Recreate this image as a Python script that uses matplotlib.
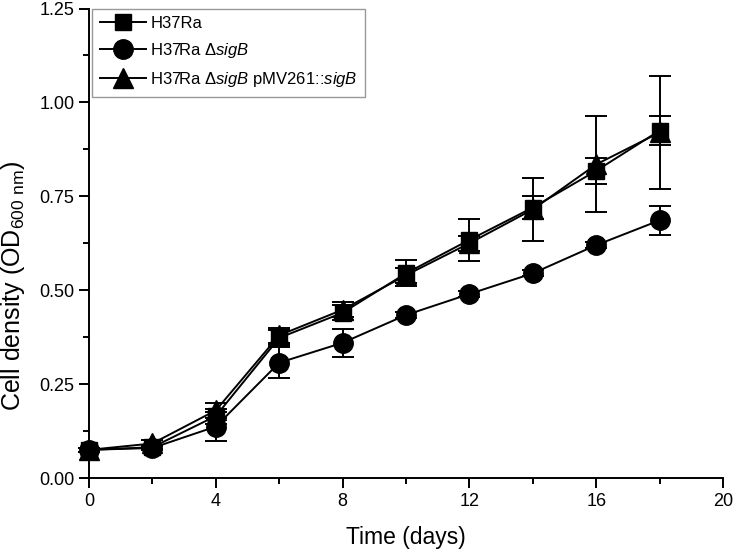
import matplotlib
matplotlib.use("Agg")
import matplotlib.pyplot as plt
from matplotlib.ticker import MultipleLocator, FormatStrFormatter
from matplotlib.lines import Line2D

plt.rcParams['font.family'] = ['Liberation Sans', 'DejaVu Sans']
plt.rcParams['mathtext.fontset'] = 'custom'
plt.rcParams['mathtext.rm'] = 'Liberation Sans'
plt.rcParams['mathtext.it'] = 'Liberation Sans:italic'

days = [0, 2, 4, 6, 8, 10, 12, 14, 16, 18]

wt = [0.075, 0.082, 0.165, 0.373, 0.440, 0.545, 0.634, 0.720, 0.818, 0.925]
wt_err = [0.005, 0.005, 0.02, 0.02, 0.02, 0.035, 0.055, 0.03, 0.035, 0.038]

dsig = [0.075, 0.080, 0.137, 0.307, 0.360, 0.434, 0.490, 0.545, 0.620, 0.686]
dsig_err = [0.005, 0.005, 0.038, 0.042, 0.038, 0.008, 0.008, 0.008, 0.008, 0.039]

comp = [0.075, 0.092, 0.180, 0.380, 0.448, 0.540, 0.625, 0.715, 0.835, 0.920]
comp_err = [0.005, 0.008, 0.02, 0.02, 0.02, 0.02, 0.02, 0.085, 0.128, 0.150]

labels = ["H37Ra",
          r"H37Ra $\Delta\mathit{sigB}$",
          r"H37Ra $\Delta\mathit{sigB}$ pMV261::$\mathit{sigB}$"]

fig = plt.figure(figsize=(7.33, 5.52), dpi=100)
ax = fig.add_axes([0.1214, 0.134, 0.865, 0.8506])

series = [(wt, wt_err, 's', 12), (dsig, dsig_err, 'o', 14), (comp, comp_err, '^', 14)]
handles = []
for (vals, errs, mk, ms), lab in zip(series, labels):
    ax.errorbar(days, vals, yerr=errs, fmt='-', marker=mk, ms=ms, color='black',
                mfc='black', mec='black', lw=1.4, elinewidth=1.4, capsize=8,
                capthick=1.4, clip_on=False)
    handles.append(Line2D([], [], color='black', lw=1.4, marker=mk, ms=ms,
                          mfc='black', mec='black', label=lab))

ax.set_xlim(0, 20)
ax.set_ylim(0, 1.25)
ax.xaxis.set_major_locator(MultipleLocator(4))
ax.xaxis.set_minor_locator(MultipleLocator(2))
ax.yaxis.set_major_locator(MultipleLocator(0.25))
ax.yaxis.set_minor_locator(MultipleLocator(0.125))
ax.yaxis.set_major_formatter(FormatStrFormatter('%.2f'))
for s in ['top', 'right']:
    ax.spines[s].set_visible(False)
for s in ['left', 'bottom']:
    ax.spines[s].set_linewidth(1.4)
ax.tick_params(which='major', direction='out', length=7, width=1.4, labelsize=13)
ax.tick_params(which='minor', direction='out', length=4, width=1.4)
ax.set_xlabel("Time (days)", fontsize=16.5, labelpad=12)
ax.set_ylabel(r"Cell density (OD$_{\mathregular{600\ nm}}$)", fontsize=18)
ax.yaxis.set_label_coords(-0.097, 0.41)

leg = ax.legend(handles=handles, loc='upper left', bbox_to_anchor=(0.005, 1.0), fontsize=12,
                frameon=True, fancybox=False, edgecolor='gray', handlelength=2.8,
                borderpad=0.45, labelspacing=0.6, handletextpad=0.25, borderaxespad=0.0)
leg.get_frame().set_linewidth(1.0)

fig.savefig("out.png", dpi=100)
